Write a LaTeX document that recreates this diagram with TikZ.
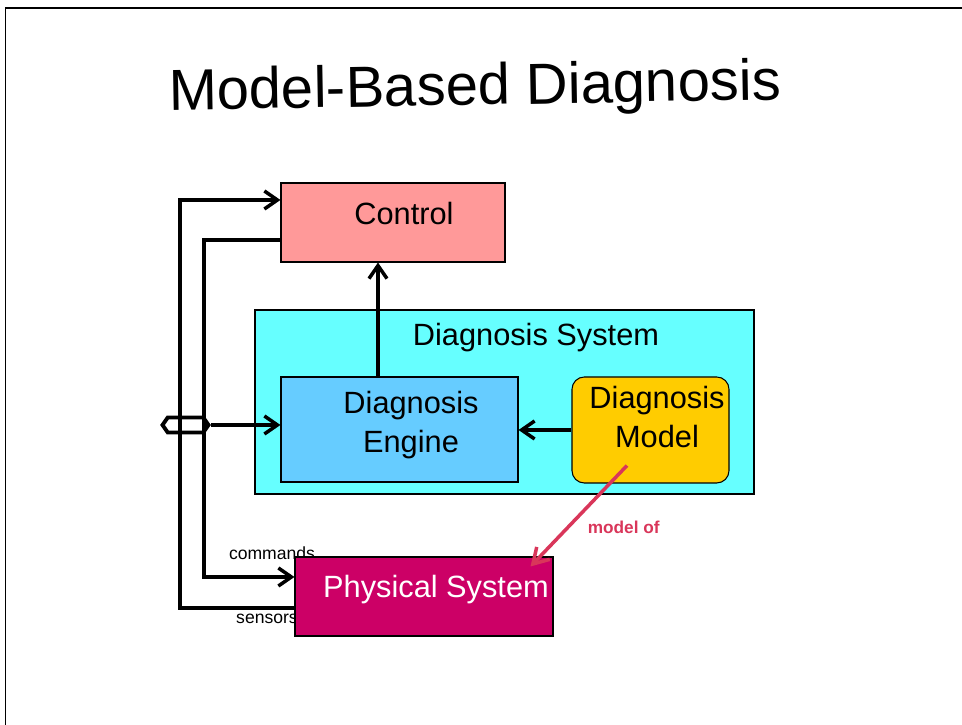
\documentclass[tikz,border=0pt]{standalone}
\usepackage{fontspec}
\setmainfont{Liberation Sans}
\usetikzlibrary{arrows.meta,positioning,calc,shapes.geometric,shapes.symbols}
\definecolor{MbdPink}{RGB}{255,153,153}
\definecolor{MbdCyan}{RGB}{102,255,255}
\definecolor{MbdSky}{RGB}{102,204,255}
\definecolor{MbdGold}{RGB}{255,204,0}
\definecolor{MbdMagenta}{RGB}{204,0,102}
\definecolor{MbdRed}{RGB}{217,54,90}
\tikzset{
  mbd/box/.style={
    draw=black,
    line width=0.6pt,
    inner sep=0pt
  },
  mbd/text/.style={font=\fontsize{17.5}{22}\selectfont, align=center, text=black},
  mbd/small/.style={font=\fontsize{10}{12}\selectfont, text=black, inner sep=0pt},
  mbd/arrow/.style={-{Straight Barb[length=2.6mm,width=3.6mm]}, line width=2pt, draw=black},
  mbd/redarrow/.style={-{Straight Barb[length=3mm,width=3.6mm]}, line width=2pt, draw=MbdRed},
  mbd/tap/.style={
    signal,
    signal to=west and east,
    signal pointer angle=110,
    draw=black,
    line width=2.2pt,
    minimum width=0.92cm,
    minimum height=0.30cm,
    inner sep=0pt
  }
}

\begin{document}
\begin{tikzpicture}[x=1cm,y=1cm]
  \useasboundingbox (0,0) rectangle (19.24,14.5);
  % slide frame
  \draw[line width=1.1pt] (0.11,0) -- (0.11,14.34) -- (19.24,14.34);

  \node[font=\fontsize{33}{40}\selectfont, rotate=1] (title) at (9.50,12.70) {Model-Based Diagnosis};

  % wire labels sit under the physical system box
  \node[mbd/small] (cmdtext) at (5.44,3.44) {commands};
  \node[mbd/small] (senstext) at (5.34,2.12) {sensors};

  \node[mbd/box, fill=MbdCyan, minimum width=9.98cm, minimum height=3.68cm,
        label={[mbd/text, xshift=0.63cm, yshift=1.28cm]center:Diagnosis System}] (dsys) at (10.09,6.46) {};
  \node[mbd/box, fill=MbdSky, minimum width=4.74cm, minimum height=2.10cm,
        label={[mbd/text, xshift=0.23cm, yshift=0.09cm]center:{Diagnosis\\Engine}}] (eng) at (7.99,5.91) {};
  \node[mbd/box, fill=MbdGold, rounded corners=7pt, minimum width=3.14cm, minimum height=2.12cm,
        label={[mbd/text, xshift=0.13cm, yshift=0.26cm]center:{Diagnosis\\Model}}] (model) at (13.01,5.90) {};
  \node[mbd/box, fill=MbdPink, minimum width=4.48cm, minimum height=1.58cm,
        label={[mbd/text, xshift=0.22cm, yshift=0.17cm]center:Control}] (ctrl) at (7.86,10.05) {};
  \node[mbd/box, fill=MbdMagenta, minimum width=5.16cm, minimum height=1.58cm,
        label={[mbd/text, text=white, xshift=0.24cm, yshift=0.13cm]center:Physical System}] (phys) at (8.48,2.57) {};

  % bus corners
  \coordinate (sensbus) at (3.60,10.50);
  \coordinate (cmdbus) at (4.08,2.96);

  \draw[mbd/arrow] ([yshift=-0.23cm]phys.west) -| (sensbus) -- (sensbus -| ctrl.west);
  \draw[mbd/arrow] ([yshift=-0.35cm]ctrl.west) -| (cmdbus) -- (cmdbus -| phys.west);

  \node[mbd/tap] (tap) at (3.71,6.00) {};
  \draw[mbd/arrow] (tap.east) -- (tap.east -| eng.west);

  \draw[mbd/arrow] ([xshift=-0.43cm]eng.north) -- ([xshift=-0.30cm]ctrl.south);
  \draw[mbd/arrow] (model.west) -- (model.west -| eng.east);

  \draw[mbd/redarrow] ([shift={(-0.47,0.36)}]model.south) -- ([shift={(-0.46,-0.20)}]phys.north east)
    node[pos=0.5, anchor=west, xshift=0.03cm, yshift=-0.22cm, font=\fontsize{9.8}{12}\selectfont\bfseries, text=MbdRed] (modelof) {model of};
\end{tikzpicture}
\end{document}
